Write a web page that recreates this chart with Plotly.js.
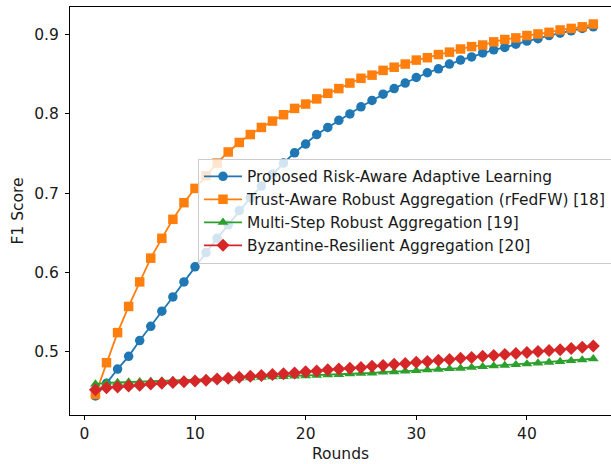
<!DOCTYPE html>
<html>
<head>
<meta charset="utf-8">
<script src="https://cdn.plot.ly/plotly-3.0.1.min.js"></script>
<style>html,body{margin:0;padding:0;background:#fff;}#chart{width:611px;height:464px;}</style>
</head>
<body>
<div id="chart"></div>
<script>
var rounds = [];
for (var i = 1; i <= 46; i++) rounds.push(i);

var proposed = [0.444,0.460,0.478,0.494,0.514,0.532,0.551,0.569,0.588,0.607,
0.625,0.643,0.660,0.678,0.694,0.709,0.724,0.738,0.751,0.762,
0.774,0.783,0.792,0.800,0.809,0.817,0.825,0.832,0.839,0.846,
0.852,0.857,0.863,0.868,0.872,0.877,0.881,0.884,0.888,0.892,
0.895,0.899,0.902,0.905,0.908,0.910];

var trustAware = [0.446,0.486,0.524,0.557,0.588,0.618,0.643,0.667,0.688,0.706,
0.722,0.738,0.752,0.764,0.774,0.783,0.791,0.799,0.807,0.8125,
0.819,0.826,0.832,0.839,0.845,0.849,0.855,0.859,0.863,0.868,
0.871,0.875,0.878,0.882,0.885,0.887,0.891,0.894,0.896,0.899,
0.901,0.903,0.906,0.908,0.910,0.9135];

var multiStep = [0.459,0.4605,0.461,0.4615,0.462,0.4625,0.463,0.4635,0.464,0.4645,
0.465,0.4655,0.466,0.4665,0.467,0.4675,0.468,0.4685,0.469,0.4695,
0.470,0.4705,0.471,0.472,0.4725,0.473,0.474,0.4745,0.4755,0.476,
0.477,0.4775,0.4785,0.479,0.480,0.481,0.482,0.4825,0.4835,0.4845,
0.4855,0.4865,0.4875,0.4885,0.4895,0.491];

var byzantine = [0.452,0.4545,0.4555,0.4565,0.4575,0.459,0.460,0.461,0.462,0.463,
0.464,0.4655,0.4665,0.4675,0.469,0.470,0.471,0.472,0.473,0.4745,
0.4755,0.477,0.478,0.479,0.480,0.4815,0.4825,0.484,0.485,0.4865,
0.4875,0.489,0.490,0.4915,0.4925,0.494,0.495,0.4965,0.4975,0.499,
0.500,0.5015,0.5025,0.504,0.5055,0.507];

var names = ["Proposed Risk-Aware Adaptive Learning",
             "Trust-Aware Robust Aggregation (rFedFW) [18]",
             "Multi-Step Robust Aggregation [19]",
             "Byzantine-Resilient Aggregation [20]"];
var series = [proposed, trustAware, multiStep, byzantine];
var colors = ["#1f77b4", "#ff7f0e", "#2ca02c", "#d62728"];
var symbols = ["circle", "square", "triangle-up", "diamond"];
var sizes = [9.5, 9.5, 9.5, 10];

var traces = series.map(function (s, k) {
  return {
    x: rounds, y: s, name: names[k], type: "scatter", mode: "lines+markers",
    line: {color: colors[k], width: 1.8},
    marker: {color: colors[k], symbol: symbols[k], size: sizes[k], line: {width: 0}},
    cliponaxis: true
  };
});

var font = "DejaVu Sans, sans-serif";
var layout = {
  width: 611, height: 464,
  margin: {l: 70, r: 0, t: 7, b: 49, pad: 0, autoexpand: false},
  paper_bgcolor: "#fff", plot_bgcolor: "#fff",
  font: {family: font, size: 15.5, color: "#1a1a1a"},
  showlegend: true,
  legend: {
    x: 0.2366, y: 0.628, xanchor: "left", yanchor: "top",
    bgcolor: "rgba(255,255,255,0.8)", bordercolor: "#cccccc", borderwidth: 1,
    font: {family: font, size: 15.4, color: "#1a1a1a"},
    itemwidth: 38,
    tracegroupgap: 0
  },
  xaxis: {
    range: [-1.3, 47.6], showgrid: false, zeroline: false,
    showline: true, linecolor: "#000", linewidth: 1, mirror: true,
    ticks: "outside", ticklen: 4, tickcolor: "#000", tickwidth: 1,
    tickvals: [0, 10, 20, 30, 40], ticktext: ["0", "10", "20", "30", "40"],
    tickfont: {family: font, size: 15.5, color: "#1a1a1a"},
    title: {text: "Rounds", font: {family: font, size: 15.5, color: "#1a1a1a"}, standoff: 6}
  },
  yaxis: {
    range: [0.42, 0.935], showgrid: false, zeroline: false,
    showline: true, linecolor: "#000", linewidth: 1, mirror: false,
    ticks: "outside", ticklen: 4, tickcolor: "#000", tickwidth: 1,
    ticklabelstandoff: 3,
    tickvals: [0.5, 0.6, 0.7, 0.8, 0.9], ticktext: ["0.5", "0.6", "0.7", "0.8", "0.9"],
    tickfont: {family: font, size: 15.5, color: "#1a1a1a"},
    title: {text: "F1 Score", font: {family: font, size: 15.5, color: "#1a1a1a"}, standoff: 6}
  }
};

Plotly.newPlot("chart", traces, layout, {displayModeBar: false, staticPlot: true});
</script>
</body>
</html>
